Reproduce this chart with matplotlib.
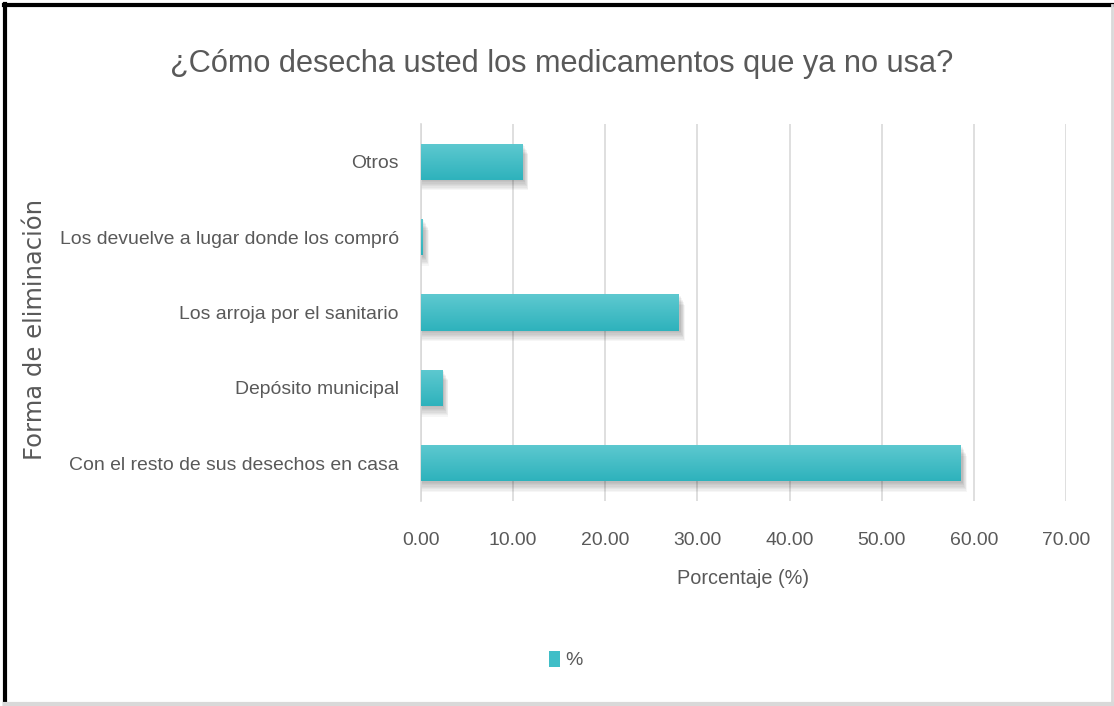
import numpy as np
import matplotlib
matplotlib.use("Agg")
import matplotlib.pyplot as plt
from matplotlib import font_manager
from matplotlib.patches import Rectangle
import matplotlib.patches as mpatches

categories = ["Con el resto de sus desechos en casa", "Depósito municipal",
              "Los arroja por el sanitario", "Los devuelve a lugar donde los compró", "Otros"]
values = [58.6, 2.3, 28.0, 0.2, 11.0]
xticks = [0, 10, 20, 30, 40, 50, 60, 70]
xtick_labels = ["0.00", "10.00", "20.00", "30.00", "40.00", "50.00", "60.00", "70.00"]
title = "¿Cómo desecha usted los medicamentos que ya no usa?"
xlabel = "Porcentaje (%)"
ylabel = "Forma de eliminación"
legend_label = "%"

names = {f.name for f in font_manager.fontManager.ttflist}
if "Liberation Sans Narrow" in names:
    narrow = "Liberation Sans Narrow"
    scale = 1.0
else:
    narrow = "Liberation Sans"
    scale = 0.82

TXT = "#595959"
BAR_TOP = np.array([0x5e, 0xc9, 0xd0]) / 255
BAR_BOT = np.array([0x2e, 0xb2, 0xbc]) / 255

fig = plt.figure(figsize=(11.14, 7.06), dpi=100)
ax = fig.add_axes([421/1114, 1-501/706, (1066-421)/1114, (501-124)/706])

ypos = np.arange(len(categories))
h = 0.48
grad = np.linspace(0, 1, 64)
img = np.zeros((64, 1, 3))
for k in range(3):
    img[:, 0, k] = BAR_TOP[k] * (1 - grad) + BAR_BOT[k] * grad

for y, v in zip(ypos, values):
    # soft shadow below and to the right
    n = 8
    for i in range(n):
        off = 0.14 * (1 - i / n)
        ax.add_patch(Rectangle((0, y - h/2 - off), v + 0.1 + off * 4, h,
                               facecolor="black", alpha=0.035, edgecolor="none", zorder=2))
    bars = ax.barh(y, v, height=h, color="#40bec7", zorder=3)
    r = bars[0]
    im = ax.imshow(img, extent=[0, v, y - h/2, y + h/2], origin="upper",
                   aspect="auto", zorder=4)
    im.set_clip_path(r)

ax.set_xlim(0, 70)
ax.set_ylim(-0.5, 4.5)
ax.set_xticks(xticks)
ax.set_xticklabels(xtick_labels, fontfamily=narrow, fontsize=17*scale, color=TXT)
ax.set_yticks(ypos)
ax.set_yticklabels(categories, fontfamily=narrow, fontsize=17*scale, color=TXT)
ax.tick_params(axis="x", length=0, pad=22)
ax.tick_params(axis="y", length=0, pad=16)
ax.grid(axis="x", color="#d9d9d9", linewidth=1.2, zorder=0)
ax.set_axisbelow(True)
for s in ["top", "right", "bottom"]:
    ax.spines[s].set_visible(False)
ax.spines["left"].set_color("#d9d9d9")
ax.spines["left"].set_linewidth(1.2)

fig.text(562/1114, 1-64/706, title, ha="center", va="center",
         fontfamily=narrow, fontsize=27*scale, color=TXT)
fig.text(743/1114, 1-579/706, xlabel, ha="center", va="center",
         fontfamily=narrow, fontsize=17.5*scale, color=TXT)
fig.text(35/1114, 1-329/706, ylabel, ha="center", va="center", rotation=90,
         fontfamily="DejaVu Sans", fontsize=17.5, color=TXT)

handle = mpatches.Patch(facecolor="#40bec7", edgecolor="none")
leg = fig.legend([handle], [legend_label], loc="center", bbox_to_anchor=(566/1114, 1-660/706),
                 frameon=False, prop={"family": narrow, "size": 17*scale},
                 handlelength=0.55, handleheight=0.9, handletextpad=0.3)
for t in leg.get_texts():
    t.set_color(TXT)

# frame of the picture
fig.add_artist(plt.Line2D([4/1114, 1], [1-5/706, 1-5/706], transform=fig.transFigure, color="black", lw=3))
fig.add_artist(plt.Line2D([5/1114, 5/1114], [0, 1-4/706], transform=fig.transFigure, color="black", lw=3))
fig.add_artist(plt.Line2D([1112/1114, 1112/1114], [0, 1-5/706], transform=fig.transFigure, color="#d9d9d9", lw=2))
fig.add_artist(plt.Line2D([5/1114, 1], [2/706, 2/706], transform=fig.transFigure, color="#d9d9d9", lw=3))

fig.savefig("out.png", dpi=100)
